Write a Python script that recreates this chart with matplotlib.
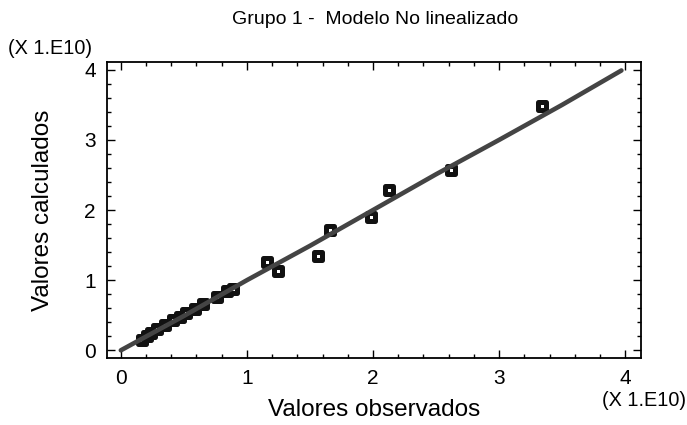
import matplotlib
matplotlib.use("Agg")
import matplotlib.pyplot as plt
import numpy as np
from matplotlib.markers import MarkerStyle
from matplotlib.ticker import MultipleLocator

plt.rcParams["font.family"] = ["Liberation Sans", "DejaVu Sans"]

# Valores en unidades de 1E10
observados = [0.17, 0.21, 0.24, 0.29, 0.35, 0.41, 0.47, 0.52, 0.59, 0.65,
              0.76, 0.84, 0.89, 1.16, 1.25, 1.56, 1.66, 1.98, 2.13, 2.62, 3.34]
calculados = [0.14, 0.21, 0.24, 0.31, 0.36, 0.43, 0.48, 0.53, 0.59, 0.66,
              0.76, 0.84, 0.88, 1.26, 1.13, 1.34, 1.71, 1.90, 2.29, 2.57, 3.49]

# curva del modelo
modelo_x = [0.0, 0.5, 1.0, 1.5, 2.0, 2.5, 3.0, 3.5, 3.97]
modelo_y = [0.0, 0.49, 1.0, 1.49, 2.0, 2.51, 3.0, 3.5, 3.99]

ticks = [0, 1, 2, 3, 4]

fig = plt.figure(figsize=(6.87, 4.25), dpi=100)
ax = fig.add_axes([0.1557, 0.1576, 0.7773, 0.6964])

sq = MarkerStyle("s", joinstyle="round")
ax.plot(
    observados,
    calculados,
    linestyle="none",
    marker=sq,
    markersize=5.2,
    markerfacecolor="white",
    markeredgecolor="#111111",
    markeredgewidth=3.6,
    zorder=2,
)

ax.plot(
    modelo_x,
    modelo_y,
    color="#444444",
    linewidth=3.3,
    solid_capstyle="round",
    zorder=3,
)

ax.set_xlim(-0.11, 4.125)
ax.set_ylim(-0.11, 4.11)

ax.set_xticks(ticks)
ax.set_yticks(ticks)
ax.xaxis.set_minor_locator(MultipleLocator(0.2))
ax.yaxis.set_minor_locator(MultipleLocator(0.2))

ax.tick_params(
    which="both",
    direction="in",
    top=True,
    right=True,
    width=1.0,
    labelsize=15,
    color="black",
)
ax.tick_params(which="major", length=6, pad=8)
ax.tick_params(which="minor", length=3)

for spine in ax.spines.values():
    spine.set_linewidth(1.3)

ax.set_xlabel("Valores observados", fontsize=17.5, labelpad=8)
ax.set_ylabel("Valores calculados", fontsize=17.5, labelpad=22)

fig.text(0.546, 0.953, "Grupo 1 -  Modelo No linealizado",
         ha="center", va="center", fontsize=14)
fig.text(0.012, 0.885, "(X 1.E10)", ha="left", va="center", fontsize=14.3)
fig.text(0.998, 0.058, "(X 1.E10)", ha="right", va="center", fontsize=14.3)

fig.savefig("out.png", dpi=100)
plt.close(fig)
